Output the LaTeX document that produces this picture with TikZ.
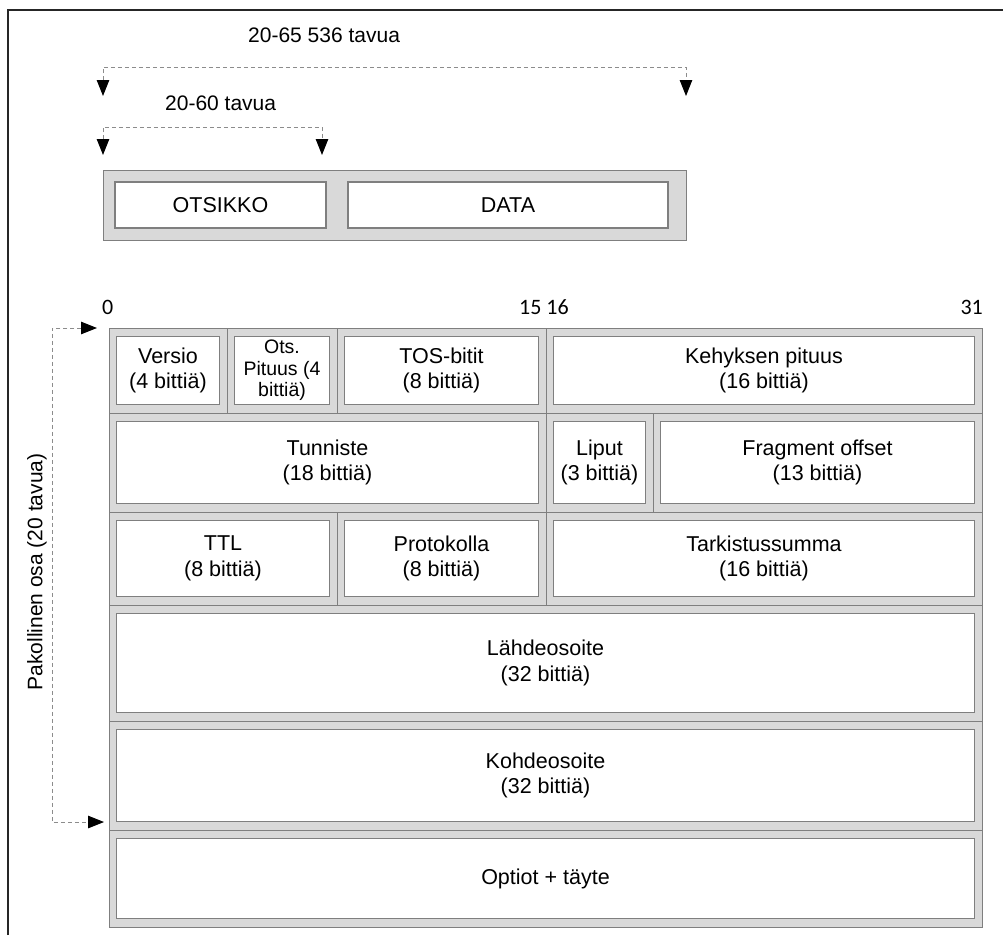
\documentclass[tikz,border=0pt]{standalone}
\usepackage{fontspec}
\setmainfont{Liberation Sans}
\newfontfamily\numfont{Carlito}
\usetikzlibrary{arrows.meta}
\definecolor{cellgray}{HTML}{D9D9D9}
\definecolor{edgegray}{HTML}{7F7F7F}
\definecolor{dashgray}{HTML}{8C8C8C}

% one header field: gray cell with a white labelled box inside
% [box options]{name}{x1}{y1}{x2}{y2}{label}
\newcommand\field[7][]{%
  \node[cell, minimum width={(#5)-(#3)}, minimum height={(#6)-(#4)}]
    (#2cell) at ({((#3)+(#5))/2},{((#4)+(#6))/2}) {};
  \node[box, minimum width={(#5)-(#3)-15}, minimum height={(#6)-(#4)-17}, #1]
    (#2) at (#2cell.center) {#7};
}

\begin{document}
\begin{tikzpicture}[x=1pt, y=-1pt,
  cell/.style={draw=edgegray, fill=cellgray, line width=1pt, inner sep=0pt, rectangle},
  box/.style={draw=edgegray, fill=white, line width=1.1pt, inner sep=0pt, rectangle,
    align=center, font=\fontsize{21.5}{25.5}\selectfont},
  lbl/.style={inner sep=0pt, font=\fontsize{21}{24}\selectfont},
  bitno/.style={inner sep=0pt, font=\numfont\fontsize{22}{24}\selectfont},
  dim/.style={draw=dashgray, line width=1pt, dash pattern=on 4pt off 3pt,
    {Triangle[length=16pt,width=12.5pt,color=black]}-{Triangle[length=16pt,width=12.5pt,color=black]}}]

\useasboundingbox (0,0) rectangle (1003,935);
\fill[white] (0,0) rectangle (1003,935);

% frame
\draw[line width=2pt, black!85] (8,935) -- (8,9.5) -- (1003,9.5);

% datagram overview
\node[cell, minimum width=583pt, minimum height=70pt] (dgram) at (394.5,205) {};
\node[box, minimum width=211pt, minimum height=46pt] (head) at (220.5,205) {OTSIKKO};
\node[box, minimum width=320pt, minimum height=46pt] (data) at (508,205) {DATA};

% length markers
\coordinate (totL) at (103,96);
\coordinate (totR) at (686,96);
\coordinate (hdrL) at (103,155);
\coordinate (hdrR) at (322,155);
\draw[dim] (totL) -- (103,67) -- (686,67) -- (totR);
\draw[dim] (hdrL) -- (103,127) -- (322,127) -- (hdrR);
\node[lbl, anchor=base west] (totlbl) at (248,42) {20-65 536 tavua};
\node[lbl, anchor=base west] (hdrlbl) at (165,110) {20-60 tavua};

% bit numbers
\node[bitno, anchor=base west] (b0) at (102,314) {0};
\node[bitno, anchor=base west] (b15) at (519,314) {15 16};
\node[bitno, anchor=base east] (b31) at (983,314) {31};

% header fields
\field{ver}{109}{328}{227}{413}{Versio\\(4 bittiä)}
\field[font=\fontsize{19.5}{21.5}\selectfont]{ihl}{227}{328}{337}{413}{Ots.\\Pituus (4\\bittiä)}
\field{tos}{337}{328}{546}{413}{TOS-bitit\\(8 bittiä)}
\field{len}{546}{328}{982}{413}{Kehyksen pituus\\(16 bittiä)}
\field{ident}{109}{413}{546}{512}{Tunniste\\(18 bittiä)}
\field{flags}{546}{413}{653}{512}{Liput\\(3 bittiä)}
\field{frag}{653}{413}{982}{512}{Fragment offset\\(13 bittiä)}
\field{ttl}{109}{512}{337}{605}{TTL\\(8 bittiä)}
\field{proto}{337}{512}{546}{605}{Protokolla\\(8 bittiä)}
\field{csum}{546}{512}{982}{605}{Tarkistussumma\\(16 bittiä)}
\field{src}{109}{605}{982}{721}{Lähdeosoite\\(32 bittiä)}
\field{dst}{109}{721}{982}{830}{Kohdeosoite\\(32 bittiä)}
\field{opt}{109}{830}{982}{927}{Optiot + täyte}

% mandatory part marker
\coordinate (manTop) at (97,328);
\coordinate (manBot) at (104,822);
\draw[dim] (manTop) -- (52,328) -- (52,822) -- (manBot);
\node[lbl, rotate=90] (manlbl) at (37,572) {Pakollinen osa (20 tavua)};

\end{tikzpicture}
\end{document}
